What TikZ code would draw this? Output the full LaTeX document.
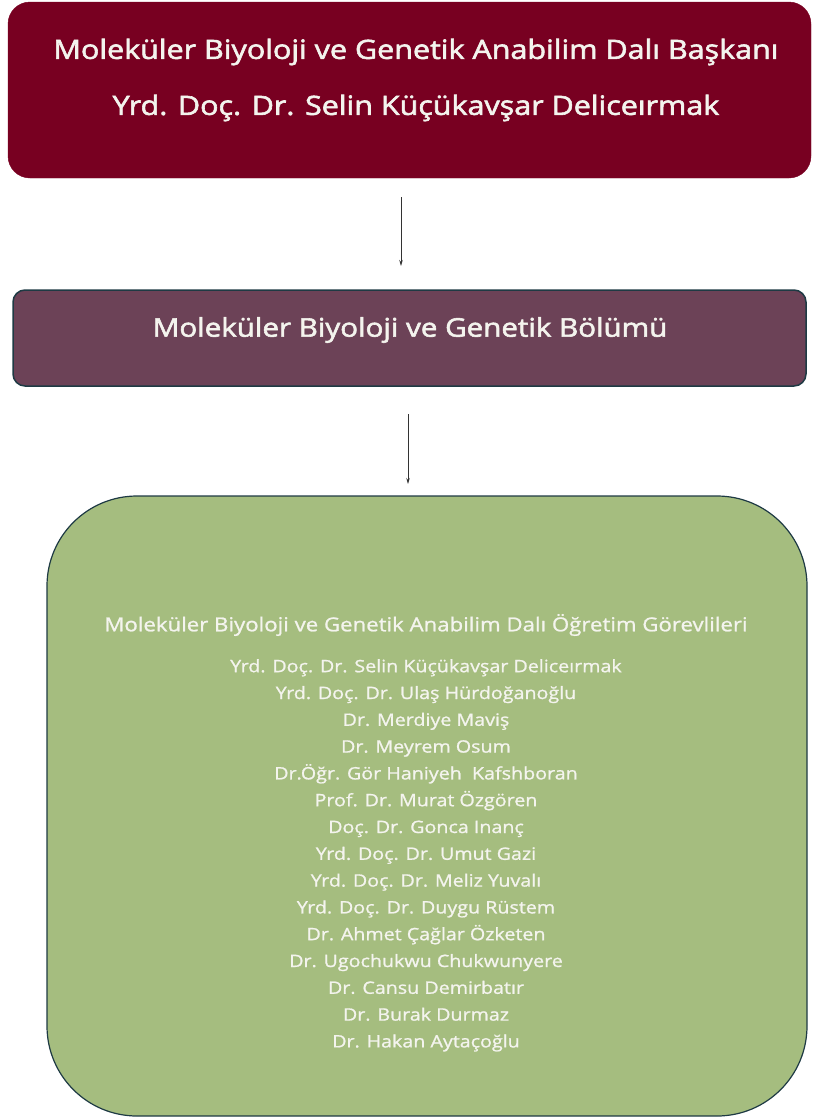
\documentclass[tikz,border=0pt]{standalone}
\usepackage{fontspec}
\setmainfont{Open Sans}
\newfontfamily\headfont{Open Sans}[FakeBold=2.2, FakeStretch=1.15]
\newfontfamily\bodyfont{Open Sans}[FakeBold=1.1, FakeStretch=1.15]
\usetikzlibrary{arrows.meta}
\definecolor{topred}{HTML}{780021}
\definecolor{midplum}{HTML}{6C4257}
\definecolor{greenbox}{HTML}{A5BD7F}
\definecolor{edgeteal}{HTML}{1E3A44}
\definecolor{txt}{HTML}{F4F4EE}
\begin{document}
\begin{tikzpicture}[x=1pt,y=-1pt,
  conn/.style={draw=black!80, line width=0.8pt, -{Stealth[length=6pt,width=3.5pt]}},
  lbl/.style={text=txt, font=\headfont\fontsize{26.5}{30}\selectfont, inner sep=0pt},
  names/.style={text=txt, font=\bodyfont\fontsize{17.1}{26.8}\selectfont, align=center, inner sep=0pt}]
\useasboundingbox (0,0) rectangle (812,1117);
\draw[fill=topred, draw=topred, rounded corners=22pt] (8,2) rectangle (811,178);
\node[lbl] (t1) at (416,52) {Moleküler Biyoloji ve Genetik Anabilim Dalı Başkanı};
\node[lbl] (t2) at (416,108) {Yrd. Doç. Dr. Selin Küçükavşar Deliceırmak};
\draw[fill=midplum, draw=edgeteal, line width=1.5pt, rounded corners=12pt] (13,290) rectangle (806,386);
\node[lbl, font=\headfont\fontsize{25.7}{30}\selectfont] (m1) at (410,330) {Moleküler Biyoloji ve Genetik Bölümü};
\draw[fill=greenbox, draw=edgeteal, line width=1.2pt, rounded corners=90pt] (47,496) rectangle (807,1116);
\node[text=txt, font=\bodyfont\fontsize{19.3}{22}\selectfont, inner sep=0pt] (g1) at (426,625) {Moleküler Biyoloji ve Genetik Anabilim Dalı Öğretim Görevlileri};
\node[names, anchor=north] (g2) at (426,659) {Yrd. Doç. Dr. Selin Küçükavşar Deliceırmak\\
Yrd. Doç. Dr. Ulaş Hürdoğanoğlu\\
Dr. Merdiye Maviş\\
Dr. Meyrem Osum\\
Dr.Öğr. Gör Haniyeh\ \ Kafshboran\\
Prof. Dr. Murat Özgören\\
Doç. Dr. Gonca Inanç\\
Yrd. Doç. Dr. Umut Gazi\\
Yrd. Doç. Dr. Meliz Yuvalı\\
Yrd. Doç. Dr. Duygu Rüstem\\
Dr. Ahmet Çağlar Özketen\\
Dr. Ugochukwu Chukwunyere\\
Dr. Cansu Demirbatır\\
Dr. Burak Durmaz\\
Dr. Hakan Aytaçoğlu};
\coordinate (a1s) at (401,197);
\coordinate (a1e) at (401,266);
\coordinate (a2s) at (408,414);
\coordinate (a2e) at (408,484);
\draw[conn] (a1s) -- (a1e);
\draw[conn] (a2s) -- (a2e);
\end{tikzpicture}
\end{document}
